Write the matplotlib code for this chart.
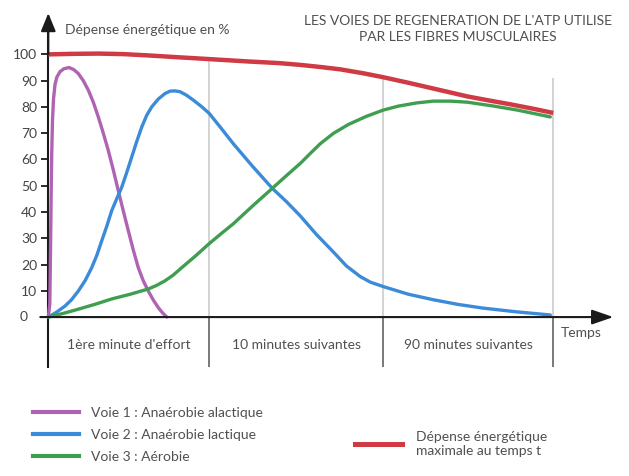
import numpy as np
import matplotlib
matplotlib.use("Agg")
import matplotlib.pyplot as plt
from matplotlib.lines import Line2D

plt.rcParams['font.family'] = ['Lato', 'DejaVu Sans']

t_voie1 = [0, 1.5, 2.2, 2.8, 3.4, 4.2, 5.2, 6.7, 8.5, 11.7, 15.5, 20.7, 25.5, 30, 35, 40, 45,
           50, 55, 60, 65, 70, 75, 80, 85, 90, 95, 100, 105, 110, 114, 118.5]
v_voie1 = [0, 5, 25, 45, 62, 75, 83, 88.5, 91.3, 93.4, 94.5, 95, 94.2, 92.7, 90, 86.4, 81.8,
           76.2, 70, 63.4, 56, 48.1, 40.4, 32.9, 25.5, 18.8, 13.8, 9.9, 6.5, 3.6, 1.7, 0]

t_voie2 = [0, 8, 16.7, 23, 30, 37, 43.4, 48.5, 53.4, 58.4, 63.4, 68.4, 73.4, 78.4, 83.4, 88.4,
           93.4, 98.4, 103.4, 110, 116.7, 121.7, 126.7, 131.7, 138, 145, 153, 161, 173, 185,
           204, 224, 238, 252, 268, 285, 298, 312, 322, 335, 360, 385, 410, 435, 468, 502]
v_voie2 = [0, 1.8, 4.2, 6.5, 9.9, 14, 18.8, 23.5, 29, 34.5, 40.5, 45, 49.4, 55, 60.9, 66.8,
           72.3, 76.8, 80, 83, 85.1, 86, 86.1, 85.8, 84.5, 82.6, 80.2, 77.5, 71.8, 66,
           57.5, 49, 44, 38.5, 31.5, 24.8, 19.5, 15.4, 13.3, 11.6, 8.7, 6.6, 4.8, 3.4, 2, 0.8]

t_voie3 = [0, 15, 30, 47, 63.4, 82, 100, 108, 116.7, 125, 133.4, 147, 161, 173, 185, 204, 224,
           238, 252, 262, 272, 285, 300, 318, 335, 350, 368, 385, 402, 419, 444, 469, 502]
v_voie3 = [0, 1.4, 3, 4.9, 6.9, 8.7, 10.7, 12, 13.8, 16, 18.8, 23.2, 28, 31.8, 35.5, 42.2, 49,
           53.8, 58.5, 62.3, 66, 69.9, 73.3, 76.4, 78.8, 80.3, 81.5, 82.2, 82.2, 81.8, 80.4,
           78.8, 76.2]

t_max = [0, 25, 50, 75, 100, 130, 161, 200, 230, 252, 272, 292, 315, 335, 360, 385, 419,
         440, 462, 485, 505]
v_max = [100, 100.2, 100.3, 100.1, 99.6, 98.9, 98.2, 97.3, 96.7, 96, 95.2, 94.3, 92.8, 91.3,
         89.2, 87, 84, 82.5, 81, 79.3, 77.7]

limites = [0, 161, 335, 505]
hauts = [98.2, 91.3, 91.1]
periodes = ["1ère minute d'effort", "10 minutes suivantes", "90 minutes suivantes"]
yticks = list(range(0, 101, 10))

c1 = '#b062b3'
c2 = '#3b8bd8'
c3 = '#3f9e50'
c4 = '#cf3a45'
gris = '#505050'

W, H = 629, 476
fig = plt.figure(figsize=(W/100, H/100), dpi=100)
ax = fig.add_axes([0, 0, 1, 1])
ax.set_xlim(-48.3, 580.7)
ax.set_ylim(-60.5, 120.7)

def fx(px):
    return px / W
def fy(py):
    return 1 - py / H

# lignes verticales des periodes
ax.vlines(limites[1:], 0, hauts, color='#c8c8c8', lw=1.1, zorder=1)
ax.vlines(limites, -19, 0, color='#555555', lw=1.1, zorder=1)

# courbes
kw = dict(lw=2.4, solid_capstyle='round', solid_joinstyle='round', zorder=3)
ax.plot(t_voie1, v_voie1, color=c1, **kw)
ax.plot(t_voie2, v_voie2, color=c2, **kw)
ax.plot(t_voie3, v_voie3, color=c3, **kw)
ax.plot(t_max, v_max, color=c4, lw=3.2, solid_capstyle='butt', solid_joinstyle='round', zorder=4)

# axes
for s in ['top', 'right', 'bottom']:
    ax.spines[s].set_visible(False)
ax.spines['left'].set_position(('data', 0))
ax.spines['left'].set_bounds(-19, 110)
ax.spines['left'].set_linewidth(1.5)
ax.spines['left'].set_color('#1a1a1a')
ax.set_xticks([])
ax.set_yticks(yticks)
ax.set_yticklabels([''] + [str(v) for v in yticks[1:]])
ax.tick_params(axis='y', length=5, width=1.3, color='#1a1a1a', pad=3,
               labelsize=10, labelcolor='#444444')
ax.text(-20.3, 0, '0', ha='right', va='center', fontsize=10, color='#444444')

ax.annotate('', xy=(565, 0), xytext=(-8, 0),
            arrowprops=dict(arrowstyle='-|>,head_length=1.3,head_width=0.45',
                            lw=1.5, color='#1a1a1a', shrinkA=0, shrinkB=0),
            zorder=5)
ax.annotate('', xy=(0, 115.7), xytext=(0, 100),
            arrowprops=dict(arrowstyle='-|>,head_length=1.1,head_width=0.45',
                            lw=1.5, color='#1a1a1a', shrinkA=0, shrinkB=0),
            zorder=5)

# textes
fig.text(fx(65), fy(30), 'Dépense énergétique en %', ha='left', va='center',
         fontsize=10, color=gris)
fig.text(fx(458), fy(21), "LES VOIES DE REGENERATION DE L'ATP UTILISE",
         ha='center', va='center', fontsize=10, color=gris)
fig.text(fx(458), fy(37), 'PAR LES FIBRES MUSCULAIRES',
         ha='center', va='center', fontsize=10, color=gris)
for i, lab in enumerate(periodes):
    ax.text((limites[i] + limites[i+1]) / 2, -10.7, lab, ha='center', va='center',
            fontsize=10, color=gris)
ax.text(533, -6.1, 'Temps', ha='center', va='center', fontsize=10, color=gris)

# legendes
fig.legend([Line2D([], [], color=c1, lw=3),
            Line2D([], [], color=c2, lw=3),
            Line2D([], [], color=c3, lw=3)],
           ['Voie 1 : Anaérobie alactique', 'Voie 2 : Anaérobie lactique',
            'Voie 3 : Aérobie'],
           loc='center left', bbox_to_anchor=(fx(33), fy(435)),
           frameon=False, fontsize=10, handlelength=3.3, handletextpad=0.85,
           labelspacing=0.7, borderpad=0, borderaxespad=0, labelcolor=gris)
fig.legend([Line2D([], [], color=c4, lw=3.6)],
           ['Dépense énergétique\nmaximale au temps t'],
           loc='center left', bbox_to_anchor=(fx(355), fy(444)),
           frameon=False, fontsize=10, handlelength=3.4, handletextpad=1.0,
           borderpad=0, borderaxespad=0, labelcolor=gris)

fig.savefig('out.png', dpi=100)
